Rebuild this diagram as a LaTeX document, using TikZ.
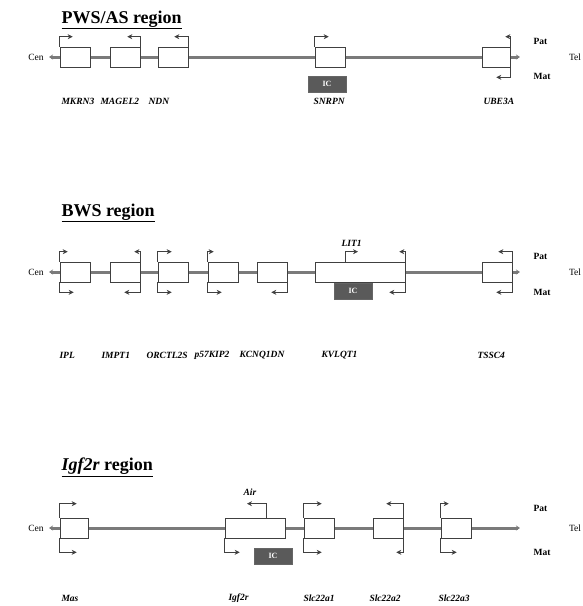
\documentclass[tikz,border=0pt]{standalone}
\usepackage{fontspec}
\setmainfont{Liberation Serif}
\usetikzlibrary{arrows.meta,positioning}
\definecolor{chromgray}{HTML}{7A7A7A}
\definecolor{icgray}{HTML}{5A5A5A}
\tikzset{
  >=Stealth,
  chrom/.style={line width=3pt, draw=chromgray,
    {Stealth[length=4pt,width=5pt]}-{Stealth[length=4pt,width=5pt]}},
  gene/.style={draw=black!75, fill=white, line width=0.6pt,
    minimum height=20pt, inner sep=0pt, minimum width=#1},
  gene/.default=30pt,
  tss/.style={draw=black!75, line width=0.6pt, -{Stealth[length=5pt,width=5pt]}},
  icbox/.style={fill=icgray, draw=black!60, text=white,
    font=\fontsize{8}{9}\selectfont\bfseries,
    minimum width=38pt, minimum height=16pt, inner sep=0pt},
  regtitle/.style={anchor=west, font=\fontsize{18}{20}\selectfont\bfseries},
  gname/.style={anchor=west, font=\fontsize{9.5}{11}\selectfont\bfseries\itshape},
  side/.style={font=\fontsize{9.5}{10}\selectfont},
  allele/.style={anchor=west, font=\fontsize{9.5}{10}\selectfont\bfseries}
}
\begin{document}
\begin{tikzpicture}[x=1pt,y=-1pt]
  \useasboundingbox (0,0) rectangle (583,606);

  % PWS/AS region
  \node[regtitle] (titA) at (58,20) {\underline{PWS/AS region}};
  \node[side] (cenA) at (36,57) {Cen};
  \node[side] (telA) at (575,57) {Tel};
  \node[allele] (patA) at (530,41) {Pat};
  \node[allele] (matA) at (530,76) {Mat};
  \coordinate (leftA) at (49,57);
  \coordinate (rightA) at (520,57);
  \draw[chrom] (leftA) -- (rightA);
  \node[gene] (mkrn) at (75,57) {};
  \node[gene] (magel) at (125,57) {};
  \node[gene] (ndn) at (173,57) {};
  \node[gene] (snrpn) at (330,57) {};
  \node[gene=28pt] (ube) at (496,57) {};
  \draw[tss] (mkrn.north west) -- ++(0,-10) -- ++(13,0);
  \draw[tss] (magel.north east) -- ++(0,-10) -- ++(-13,0);
  \draw[tss] (ndn.north east) -- ++(0,-10) -- ++(-14,0);
  \draw[tss] (snrpn.north west) -- ++(0,-10) -- ++(14,0);
  \draw[tss] (ube.north east) -- ++(0,-10) -- ++(-5,0);
  \draw[tss] (ube.south east) -- ++(0,10) -- ++(-14,0);
  \node[icbox] (icA) at (327,84) {IC};
  \node[gname] (lmkrn) at (58,101) {MKRN3};
  \node[gname] (lmagel) at (97,101) {MAGEL2};
  \node[gname] (lndn) at (145,101) {NDN};
  \node[gname] (lsnrpn) at (310,101) {SNRPN};
  \node[gname] (lube) at (480,101) {UBE3A};

  % BWS region
  \node[regtitle] (titB) at (58,213) {\underline{BWS region}};
  \node[side] (cenB) at (36,272) {Cen};
  \node[side] (telB) at (575,272) {Tel};
  \node[allele] (patB) at (530,256) {Pat};
  \node[allele] (matB) at (530,292) {Mat};
  \coordinate (leftB) at (49,272);
  \coordinate (rightB) at (520,272);
  \draw[chrom] (leftB) -- (rightB);
  \node[gene] (ipl) at (75,272) {};
  \node[gene] (impt) at (125,272) {};
  \node[gene] (orctl) at (173,272) {};
  \node[gene] (kip) at (223,272) {};
  \node[gene] (kcnq) at (272,272) {};
  \node[gene=90pt] (kvlqt) at (360,272) {};
  \node[gene] (tssc) at (497,272) {};
  \draw[tss] (ipl.north west) -- ++(0,-10) -- ++(8,0);
  \draw[tss] (ipl.south west) -- ++(0,10) -- ++(14,0);
  \draw[tss] (impt.north east) -- ++(0,-10) -- ++(-6,0);
  \draw[tss] (impt.south east) -- ++(0,10) -- ++(-16,0);
  \draw[tss] (orctl.north west) -- ++(0,-10) -- ++(14,0);
  \draw[tss] (orctl.south west) -- ++(0,10) -- ++(14,0);
  \draw[tss] (kip.north west) -- ++(0,-10) -- ++(6,0);
  \draw[tss] (kip.south west) -- ++(0,10) -- ++(14,0);
  \draw[tss] (kcnq.south east) -- ++(0,10) -- ++(-16,0);
  \draw[tss] ([xshift=-15pt]kvlqt.north) -- ++(0,-10) -- ++(13,0);
  \draw[tss] (kvlqt.north east) -- ++(0,-10) -- ++(-6,0);
  \draw[tss] (kvlqt.south east) -- ++(0,10) -- ++(-16,0);
  \draw[tss] (tssc.north east) -- ++(0,-10) -- ++(-14,0);
  \draw[tss] (tssc.south east) -- ++(0,10) -- ++(-16,0);
  \node[icbox] (icB) at (353,291) {IC};
  \node[gname] (llit) at (338,243) {LIT1};
  \node[gname] (lipl) at (56,355) {IPL};
  \node[gname] (limpt) at (98,355) {IMPT1};
  \node[gname] (lorctl) at (143,355) {ORCTL2S};
  \node[gname] (lkip) at (191,355) {p57KIP2};
  \node[gname] (lkcnq) at (236,355) {KCNQ1DN};
  \node[gname] (lkvlqt) at (318,355) {KVLQT1};
  \node[gname] (ltssc) at (474,355) {TSSC4};

  % Igf2r region
  \node[regtitle] (titC) at (58,467) {\underline{\textit{Igf2r} region}};
  \node[side] (cenC) at (36,528) {Cen};
  \node[side] (telC) at (575,528) {Tel};
  \node[allele] (patC) at (530,508) {Pat};
  \node[allele] (matC) at (530,552) {Mat};
  \coordinate (leftC) at (49,528);
  \coordinate (rightC) at (520,528);
  \draw[chrom] (leftC) -- (rightC);
  \node[gene=28pt] (mas) at (74,528) {};
  \node[gene=60pt] (igf) at (255,528) {};
  \node[gene] (slca) at (319,528) {};
  \node[gene] (slcb) at (388,528) {};
  \node[gene] (slcc) at (456,528) {};
  \draw[tss] (mas.north west) -- ++(0,-14) -- ++(17,0);
  \draw[tss] (mas.south west) -- ++(0,14) -- ++(17,0);
  \draw[tss] ([xshift=11pt]igf.north) -- ++(0,-14) -- ++(-19,0);
  \draw[tss] (igf.south west) -- ++(0,14) -- ++(15,0);
  \draw[tss] (slca.north west) -- ++(0,-14) -- ++(18,0);
  \draw[tss] (slca.south west) -- ++(0,14) -- ++(18,0);
  \draw[tss] (slcb.north east) -- ++(0,-14) -- ++(-17,0);
  \draw[tss] (slcb.south east) -- ++(0,14) -- ++(-7,0);
  \draw[tss] (slcc.north west) -- ++(0,-14) -- ++(8,0);
  \draw[tss] (slcc.south west) -- ++(0,14) -- ++(16,0);
  \node[icbox] (icC) at (273,556) {IC};
  \node[gname] (lair) at (240,492) {Air};
  \node[gname] (lmas) at (58,598) {Mas};
  \node[gname] (ligf) at (225,598) {Igf2r};
  \node[gname] (lslca) at (300,598) {Slc22a1};
  \node[gname] (lslcb) at (366,598) {Slc22a2};
  \node[gname] (lslcc) at (435,598) {Slc22a3};
\end{tikzpicture}
\end{document}
